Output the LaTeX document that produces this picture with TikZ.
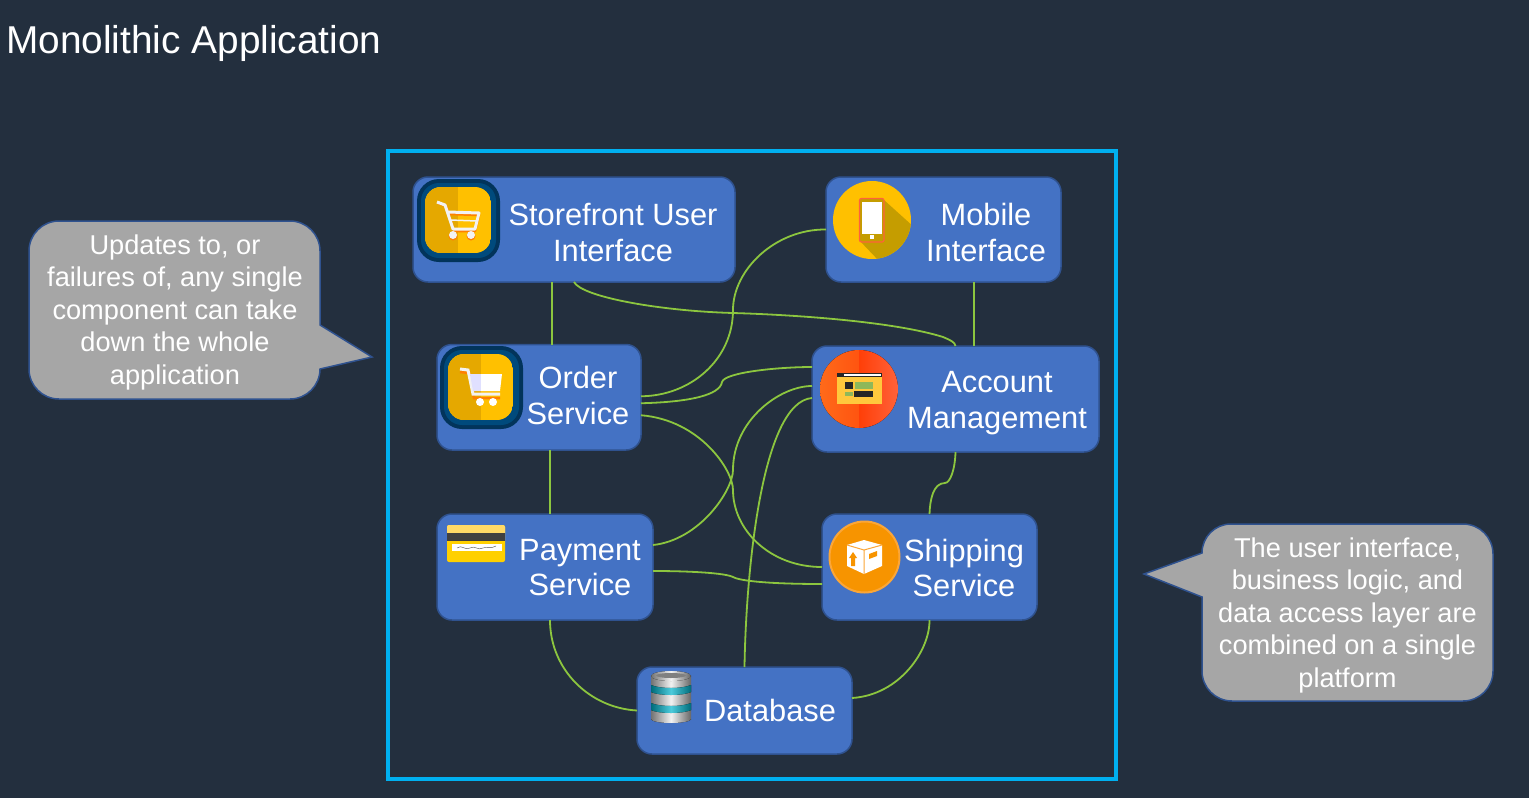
\documentclass[tikz,border=0pt]{standalone}
\usepackage{fontspec}
\setmainfont{Liberation Sans}
\usepackage[]{tikz}
\definecolor{slide}{HTML}{232F3E}
\definecolor{framecol}{HTML}{00B0F0}
\definecolor{boxcol}{HTML}{4472C4}
\definecolor{edgecol}{HTML}{2F528F}
\definecolor{linkcol}{HTML}{8CC63F}
\definecolor{notecol}{HTML}{A6A6A6}
\definecolor{goldA}{HTML}{FFC000}
\definecolor{goldB}{HTML}{E5A800}
\definecolor{goldC}{HTML}{C59D00}
\definecolor{navyA}{HTML}{02345B}
\definecolor{navyB}{HTML}{004A7C}
\definecolor{flameA}{HTML}{FF6A1A}
\definecolor{flameB}{HTML}{FF5410}
\definecolor{flameC}{HTML}{FF3F08}
\definecolor{flameD}{HTML}{FF623A}
\definecolor{pageyel}{HTML}{FFC83D}
\definecolor{pagegrn}{HTML}{8FB85A}
\definecolor{parcel}{HTML}{F79400}
\definecolor{parcelB}{HTML}{FBA638}
\definecolor{teal}{HTML}{00B4CC}
\definecolor{cardA}{HTML}{FFD966}
\definecolor{cardB}{HTML}{FFD000}
\tikzset{svc/.style = {draw=edgecol, fill=boxcol, line width=1.5pt, rounded corners=15pt, outer sep=0, inner sep=0}}
\tikzset{svctext/.style = {text=white, align=center, font=\fontsize{30.8}{36}\selectfont}}
\tikzset{note/.style = {draw=edgecol, fill=notecol, line width=1.5pt}}
\tikzset{notetext/.style = {text=white, align=center, font=\fontsize{27.2}{32.5}\selectfont}}
\tikzset{link/.style = {draw=linkcol, line width=1.8pt}}
\tikzset{steel/.style = {left color=gray!90!black, right color=gray!80!black, middle color=white!90!gray}}
\begin{document}
\begin{tikzpicture}[x=1pt,y=-1pt]
        \useasboundingbox (0,0) rectangle (1529,798);
        \fill [slide] (0,0) rectangle (1529,798);
        \node [anchor=west, inner sep=0, text=white, font=\fontsize{38.8}{44}\selectfont] (title) at (6,43) {Monolithic Application};
        \draw [framecol, line width=4pt] (388,151) rectangle (1116,779);

        \node [svc, minimum width=322pt, minimum height=105pt] (store) at (574,229.5) {};
        \node [svc, minimum width=235pt, minimum height=105pt] (mobile) at (943.5,229.5) {};
        \node [svc, minimum width=204pt, minimum height=105.5pt] (order) at (539,397.25) {};
        \node [svc, minimum width=287pt, minimum height=106pt] (account) at (955.5,399) {};
        \node [svc, minimum width=216pt, minimum height=106pt] (payment) at (545,567) {};
        \node [svc, minimum width=215pt, minimum height=106pt] (shipping) at (929.5,567) {};
        \node [svc, minimum width=215pt, minimum height=87pt] (database) at (744.5,710.5) {};

        \draw [link] ([xshift=-22pt]store.south) -- ([xshift=13pt]order.north);
        \draw [link] ([xshift=11pt]order.south) -- ([xshift=5pt]payment.north);
        \draw [link] ([xshift=30.5pt]mobile.south) -- ([xshift=18.5pt]account.north);
        \draw [link] (store.south) .. controls (582,297) and (660,311) .. (733,313) .. controls (800,315) and (895,322) .. (943,337) .. controls (950,340) and (955,342) .. (account.north);
        \draw [link] (mobile.west) .. controls (775,229) and (733,270) .. (733,310) .. controls (733,360) and (690,396) .. ([yshift=1pt]order.east);
        \draw [link] ([yshift=-6pt]order.east) .. controls (690,402) and (720,395) .. (722,382) .. controls (725,372) and (780,367) .. ([yshift=32pt]account.west);
        \draw [link] ([yshift=-18pt]order.east) .. controls (700,420) and (733,470) .. (733,490) .. controls (733,530) and (770,567) .. (shipping.west);
        \draw [link] ([yshift=22pt]payment.east) .. controls (700,540) and (733,490) .. (733,470) .. controls (733,420) and (780,386) .. ([yshift=13pt]account.west);
        \draw [link] (database.north) .. controls (746,570) and (762,402) .. ([yshift=1pt]account.west);
        \draw [link] ([yshift=-4pt]payment.east) .. controls (690,571) and (725,573) .. (733,577) .. controls (740,581) and (770,584) .. ([yshift=-17pt]shipping.west);
        \draw [link] ([xshift=5pt]payment.south) .. controls (550,670) and (590,708) .. (database.west);
        \draw [link] (shipping.south) .. controls (930,650) and (900,695) .. ([yshift=12.5pt]database.east);
        \draw [link] (account.south) .. controls (955,470) and (950,483) .. (945,483) .. controls (933,483) and (930,500) .. (shipping.north);

        \node [svctext] (storetext) at (613,233) {Storefront User\\Interface};
        \node [svctext] (mobiletext) at (986,232) {Mobile\\Interface};
        \node [svctext] (ordertext) at (578,395) {Order\\Service};
        \node [svctext] (accounttext) at (997,403) {Account\\Management};
        \node [svctext, font=\fontsize{30.8}{35}\selectfont] (paymenttext) at (580,568) {Payment\\Service};
        \node [svctext, font=\fontsize{30.8}{35}\selectfont] (shippingtext) at (964,568) {Shipping\\Service};
        \node [svctext] (databasetext) at (770,710) {Database};

        \filldraw [note] (59,221) -- (290,221) arc [start angle=270, end angle=360, radius=30] -- (320,325) -- (372,357) -- (320,369) arc [start angle=0, end angle=90, radius=30] -- (59,399) arc [start angle=90, end angle=180, radius=30] -- (29,251) arc [start angle=180, end angle=270, radius=30] -- cycle;
        \node [notetext] (lefttext) at (175,312) {Updates to, or\\failures of, any single\\component can take\\down the whole\\application};
        \filldraw [note] (1232,524) -- (1463,524) arc [start angle=270, end angle=360, radius=30] -- (1493,671) arc [start angle=0, end angle=90, radius=30] -- (1232,701) arc [start angle=90, end angle=180, radius=30] -- (1202,597) -- (1144,574) -- (1202,553) arc [start angle=180, end angle=270, radius=29] -- cycle;
        \node [notetext] (righttext) at (1347.5,615) {The user interface,\\business logic, and\\data access layer are\\combined on a single\\platform};

        \fill [navyA, rounded corners=22pt] (417,179) rectangle (500,262);
        \fill [navyB, rounded corners=18pt] (421,183) rectangle (496,258);
        \begin{scope}
            \clip [rounded corners=16pt] (425,187) rectangle (491,253);
            \fill [goldA] (425,187) rectangle (491,253);
            \fill [goldB] (425,187) rectangle (458,253);
        \end{scope}
        \draw [orange, line width=2.5pt, line join=round] (438,203) -- (446,206) -- (454,231) -- (475,231) -- (479,215) -- (449,214);
        \draw [white!90!gray, line width=3pt, line join=round] (437,202) -- (445,205) -- (453,229) -- (475,229) -- (479,213) -- (448,212);
        \draw [white!90!gray, line width=1.5pt] (450,220) -- (477,221);
        \fill [orange] (453,236) circle [radius=4.5] (471,236) circle [radius=4.5];
        \fill [white!90!gray] (453,235) circle [radius=4] (471,235) circle [radius=4];

        \fill [navyA, rounded corners=22pt] (440,346) rectangle (523,429);
        \fill [navyB, rounded corners=18pt] (444,350) rectangle (519,425);
        \begin{scope}
            \clip [rounded corners=16pt] (448,354) rectangle (513,420);
            \fill [goldA] (448,354) rectangle (513,420);
            \fill [goldB] (448,354) rectangle (481,420);
        \end{scope}
        \draw [orange, line width=2.5pt] (460,372) -- (469,373) -- (474,398) -- (500,398);
        \draw [white!90!gray, line width=3pt] (460,369) -- (468,370) -- (473,394) -- (500,394);
        \fill [white!88!blue] (470,374) -- (481,374) -- (481,391) -- (473,391) -- cycle;
        \fill [white] (481,374) -- (502,374) -- (500,391) -- (481,391) -- cycle;
        \fill [white] (480,402) circle [radius=4] (493,402) circle [radius=4];

        \fill [goldA] (872,220) circle [radius=39];
        \begin{scope}
            \clip (872,220) circle [radius=39];
            \fill [goldC] (884,200) -- (915,228) -- (900,270) -- (880,262) -- (859,240) -- cycle;
        \end{scope}
        \filldraw [draw=flameD, fill=goldC, line width=1.2pt, rounded corners=2pt] (859.5,198.5) rectangle (884,242);
        \fill [white] (862,202) rectangle (882,234);
        \fill [white] (870,235) rectangle (874,239);

        \fill [left color=flameA, right color=flameB] (859,428) arc [start angle=90, end angle=270, radius=39] -- cycle;
        \fill [left color=flameC, right color=flameD] (859,428) arc [start angle=90, end angle=-90, radius=39] -- cycle;
        \fill [pageyel] (837,373) rectangle (882,404);
        \fill [black!85] (837,373) rectangle (882,377);
        \fill [white] (844,374) rectangle (881,376);
        \fill [black!85] (845,382) rectangle (853,389);
        \fill [pagegrn] (855,382) rectangle (873,389);
        \fill [pagegrn] (845,392) rectangle (853,396);
        \fill [black!85] (854,391) rectangle (873,397);

        \filldraw [draw=parcelB, fill=parcel, line width=2pt] (864.5,557) ellipse [x radius=35, y radius=35.5];
        \fill [white] (847,545) -- (864,540) -- (882,545) -- (882,566) -- (864,574) -- (847,566) -- cycle;
        \draw [parcelB, line width=1pt] (847,545) -- (864,550) -- (882,545) (864,550) -- (864,574);
        \fill [parcel] (851,566) -- (851,558) -- (849,558) -- (853,552) -- (857,558) -- (855,558) -- (855,566) -- cycle;
        \fill [parcel] (869,554) -- (877,551) -- (877,556) -- (869,559) -- cycle;

        \fill [steel] (651,676) rectangle (691,719);
        \fill [steel] (651,719) arc [start angle=180, end angle=0, x radius=20, y radius=4] -- cycle;
        \fill [steel] (671,676) ellipse [x radius=20, y radius=5];
        \fill [gray] (671,675.5) ellipse [x radius=15, y radius=2.5];
        \foreach \bandy in {685,703} {
            \fill [left color=teal!60!black, right color=teal!60!black, middle color=teal!70!white] (651,\bandy) .. controls (660,\bandy+4) and (682,\bandy+4) .. (691,\bandy) -- (691,\bandy+7) .. controls (682,\bandy+11) and (660,\bandy+11) .. (651,\bandy+7) -- cycle;
        }

        \fill [cardB, rounded corners=2pt] (447,525) rectangle (505,562);
        \fill [cardA, rounded corners=2pt] (447,525) rectangle (505,535);
        \fill [black!75] (447,533) rectangle (505,541);
        \fill [white] (452,544) rectangle (502,551);
        \draw [black!70] (457,548) .. controls (462,544) and (465,551) .. (470,548) .. controls (475,545) and (478,551) .. (483,548) .. controls (488,546) and (491,549) .. (496,546);
    \end{tikzpicture}
\end{document}
